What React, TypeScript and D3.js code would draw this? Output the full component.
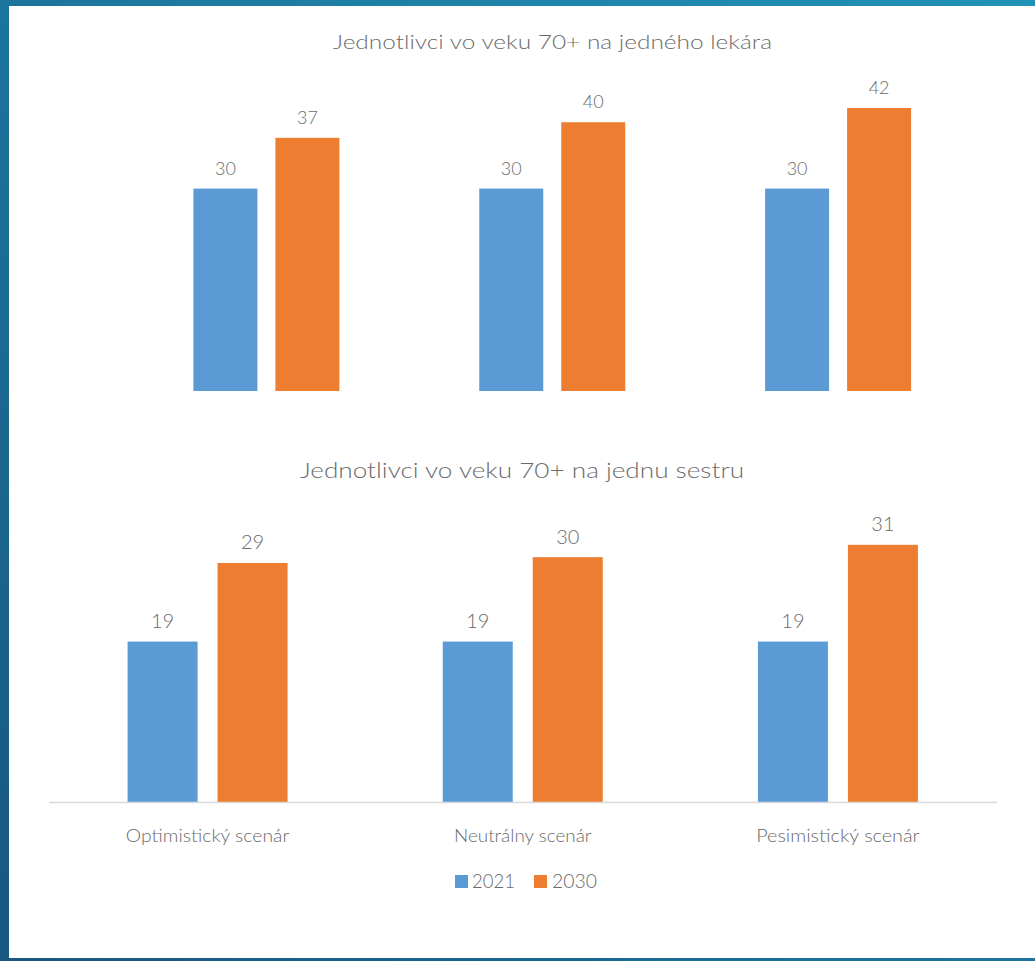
import React from "react";
import * as d3 from "d3";

const categories = ["Optimistický scenár", "Neutrálny scenár", "Pesimistický scenár"];
const seriesNames = ["2021", "2030"];
const doctors2021 = [29.9, 29.9, 29.9];
const doctors2030 = [37.4, 39.7, 41.8];
const nurses2021 = [19.4, 19.4, 19.4];
const nurses2030 = [28.9, 29.6, 31.1];
const doctorLabels2021 = ["30", "30", "30"];
const doctorLabels2030 = ["37", "40", "42"];
const nurseLabels2021 = ["19", "19", "19"];
const nurseLabels2030 = ["29", "30", "31"];
const topTitle = "Jednotlivci vo veku 70+ na jedného lekára";
const bottomTitle = "Jednotlivci vo veku 70+ na jednu sestru";

const COLORS = ["#5B9BD5", "#ED7D31"];
const TEXT = "#6b6b6b";
const FONT = "Lato, 'Open Sans', sans-serif";

type PanelProps = {
  s1: number[];
  s2: number[];
  l1: string[];
  l2: string[];
  xRange: [number, number];
  innerHalf: number;
  innerPad: number;
  baseline: number;
  pxPerUnit: number;
  labelSize: number;
  labelGap: number;
};

function Panel(p: PanelProps) {
  const x0 = d3.scaleBand<string>().domain(categories).range(p.xRange).paddingInner(0).paddingOuter(0);
  const bw = x0.bandwidth();
  const x1 = d3
    .scaleBand<string>()
    .domain(seriesNames)
    .range([bw / 2 - p.innerHalf, bw / 2 + p.innerHalf])
    .paddingInner(p.innerPad)
    .paddingOuter(0);
  const y = d3.scaleLinear().domain([0, 50]).range([p.baseline, p.baseline - 50 * p.pxPerUnit]);
  const series = [p.s1, p.s2];
  const labels = [p.l1, p.l2];
  return (
    <g>
      {categories.map((c, ci) => (
        <g key={c} transform={`translate(${x0(c)},0)`}>
          {seriesNames.map((s, si) => {
            const v = series[si][ci];
            const bx = x1(s)!;
            return (
              <g key={s}>
                <rect x={bx} y={y(v)} width={x1.bandwidth()} height={y(0) - y(v)} fill={COLORS[si]} />
                <text
                  x={bx + x1.bandwidth() / 2}
                  y={y(v) - p.labelGap}
                  textAnchor="middle"
                  fontSize={p.labelSize}
                  fill={TEXT}
                  fontFamily={FONT}
                  fontWeight={300}
                >
                  {labels[si][ci]}
                </text>
              </g>
            );
          })}
        </g>
      ))}
    </g>
  );
}

export default function App() {
  const W = 1035;
  const H = 961;
  const xb = d3.scaleBand<string>().domain(categories).range([50, 995.5]);
  return (
    <svg
      width={W}
      height={H}
      style={{ position: "absolute", left: 0, top: 0, display: "block" }}
      xmlns="http://www.w3.org/2000/svg"
    >
      <defs>
        <linearGradient id="bg" x1="0" y1="1" x2="1" y2="0">
          <stop offset="0%" stopColor="#175781" />
          <stop offset="100%" stopColor="#2192b8" />
        </linearGradient>
      </defs>
      <rect x={0} y={0} width={W} height={H} fill="url(#bg)" />
      <rect x={9} y={6} width={W - 9} height={952} fill="#ffffff" />

      <text x={552.5} y={49} textAnchor="middle" fontSize={20} fill={TEXT} fontFamily={FONT} fontWeight={300}
        textLength={439} lengthAdjust="spacingAndGlyphs">
        {topTitle}
      </text>
      <Panel
        s1={doctors2021}
        s2={doctors2030}
        l1={doctorLabels2021}
        l2={doctorLabels2030}
        xRange={[123.5, 981]}
        innerHalf={73}
        innerPad={0.2195}
        baseline={391}
        pxPerUnit={6.77}
        labelSize={18}
        labelGap={14}
      />

      <text x={522} y={478} textAnchor="middle" fontSize={21} fill={TEXT} fontFamily={FONT} fontWeight={300}
        textLength={444} lengthAdjust="spacingAndGlyphs">
        {bottomTitle}
      </text>
      <Panel
        s1={nurses2021}
        s2={nurses2030}
        l1={nurseLabels2021}
        l2={nurseLabels2030}
        xRange={[50, 995.5]}
        innerHalf={80}
        innerPad={0.2222}
        baseline={802}
        pxPerUnit={8.27}
        labelSize={20}
        labelGap={13.5}
      />
      <line x1={49} x2={997} y1={802.5} y2={802.5} stroke="#d9d9d9" strokeWidth={1.5} />
      {categories.map((c) => (
        <text
          key={c}
          x={xb(c)! + xb.bandwidth() / 2}
          y={842}
          textAnchor="middle"
          fontSize={18}
          fill={TEXT}
          fontFamily={FONT}
          fontWeight={300}
          textLength={c.length * 8.6}
          lengthAdjust="spacingAndGlyphs"
        >
          {c}
        </text>
      ))}

      <g fontFamily={FONT} fontSize={19} fill={TEXT} fontWeight={300}>
        <rect x={455} y={875} width={13} height={13} fill={COLORS[0]} />
        <text x={472} y={888} textLength={43} lengthAdjust="spacingAndGlyphs">{seriesNames[0]}</text>
        <rect x={534} y={875} width={13} height={13} fill={COLORS[1]} />
        <text x={552} y={888} textLength={45} lengthAdjust="spacingAndGlyphs">{seriesNames[1]}</text>
      </g>
    </svg>
  );
}
